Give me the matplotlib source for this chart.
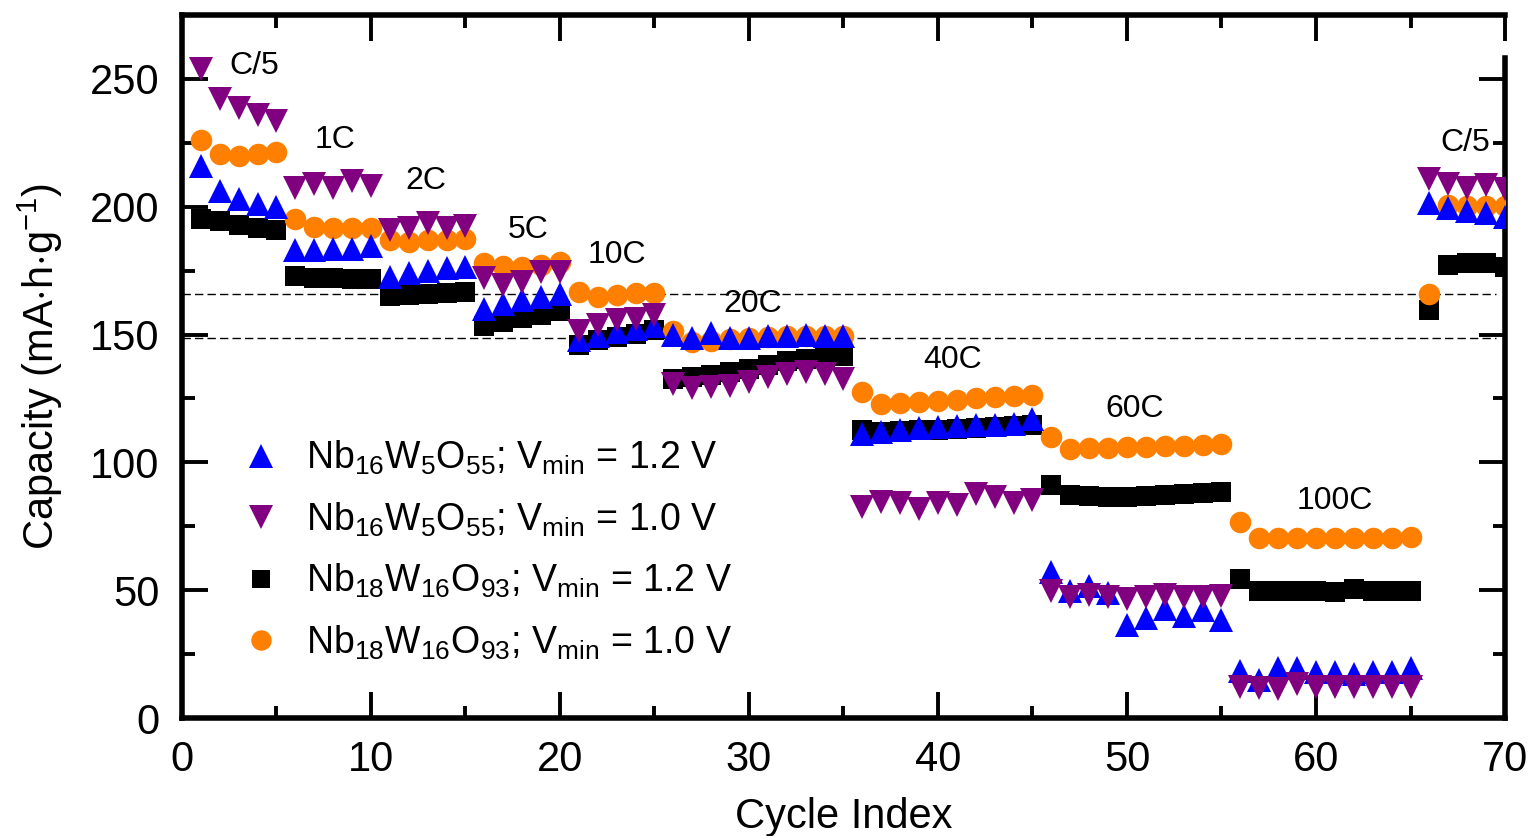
import numpy as np
import matplotlib
matplotlib.use('Agg')
import matplotlib.pyplot as plt

plt.rcParams['font.family'] = ['Liberation Sans', 'DejaVu Sans']
plt.rcParams['mathtext.fontset'] = 'custom'
plt.rcParams['mathtext.rm'] = 'Liberation Sans'
plt.rcParams['mathtext.it'] = 'Liberation Sans:italic'
plt.rcParams['mathtext.bf'] = 'Liberation Sans:bold'

cycles = np.arange(1, 71)

# Nb16W5O55, Vmin = 1.2 V
nb16_12 = [216, 206, 203, 201, 200,
           183, 183, 183.5, 183.5, 184.5,
           172.5, 174, 175, 176, 176.5,
           160, 162, 163.5, 164.5, 166,
           148, 149.5, 151, 152, 153.5,
           150, 148.6, 150.6, 148.6, 148.8, 149.3, 149.3, 150, 149.3, 149.3,
           111, 112, 112.5, 113.3, 113.7, 114.1, 114.5, 114.8, 115.2, 116.8,
           57, 49.6, 51.5, 49, 36.2, 39.2, 42.8, 40, 42.2, 38.2,
           18.4, 15, 19.6, 19.6, 18, 18, 17.4, 18, 18, 19.4,
           201.3, 199.5, 198.4, 197.6, 196]

# Nb16W5O55, Vmin = 1.0 V
nb16_10 = [254, 242, 238.5, 236, 233.5,
           207.5, 209, 207.5, 210, 208,
           191, 191.5, 193.6, 191.8, 192.3,
           172, 169.2, 170.4, 174.5, 174.5,
           151.5, 153.8, 155.8, 156.2, 157.5,
           130.5, 129, 129.3, 130, 131.6, 133.5, 134.6, 135.5, 134.4, 132.6,
           82.5, 84.5, 84, 81.6, 84, 83.2, 87.8, 86.4, 84, 85.2,
           49.5, 47.3, 48, 47.4, 46.5, 47.5, 48, 47.3, 47.3, 47.6,
           12.2, 11.8, 11.3, 13.5, 12, 12, 12, 12, 12, 12,
           211, 209, 207.5, 208.5, 207]

# Nb18W16O93, Vmin = 1.2 V
nb18_12 = [195, 194.3, 192.8, 191.5, 190.8,
           173, 172, 172, 171.6, 171.6,
           165, 165.3, 165.7, 166.1, 166.6,
           153.5, 155, 156.3, 157.8, 159.2,
           145.8, 147.7, 149.2, 150.4, 151.6,
           132.8, 133.2, 134, 135.2, 136.7, 137.9, 139.5, 140.6, 141.4, 141.8,
           112.5, 111.9, 112.1, 112.5, 112.5, 112.9, 113.3, 113.7, 114.1, 114.8,
           91, 87.1, 86.7, 86.3, 86.3, 86.7, 87.1, 87.5, 87.9, 88.3,
           54.3, 49.6, 49.6, 49.6, 49.6, 49.4, 50.4, 49.6, 49.6, 49.8,
           159.6, 177.3, 178.1, 178.1, 176.6]

# Nb18W16O93, Vmin = 1.0 V
nb18_10 = [226, 220.7, 220, 220.8, 221.5,
           195.3, 192, 191.8, 191.8, 191.5,
           186.8, 186.2, 186.8, 186.8, 187.2,
           177.8, 177, 176.6, 177.2, 178.3,
           166.5, 164.8, 165.6, 166.2, 166.4,
           151.5, 147, 147.5, 148.3, 148.8, 149.2, 149.3, 149.4, 149.4, 149.4,
           127.4, 122.8, 123.1, 123.5, 123.9, 124.3, 125, 125.4, 125.8, 126.2,
           109.8, 105.3, 105.6, 105.8, 105.9, 106, 106.3, 106.6, 106.8, 107.2,
           76.8, 70.3, 70.4, 70.4, 70.5, 70.6, 70.6, 70.6, 70.6, 71,
           166, 200.5, 200.3, 200.3, 200.2]

rate_labels = ['C/5', '1C', '2C', '5C', '10C', '20C', '40C', '60C', '100C', 'C/5']
rate_x = [3.8, 8.1, 12.9, 18.3, 23.0, 30.2, 40.8, 50.4, 61.0, 67.9]
rate_y = [255, 226, 210, 191, 181, 162, 140, 121, 85, 225]

ref_levels = [166, 148.5]

fig = plt.figure(figsize=(15.34, 8.36), dpi=100)
ax = fig.add_axes([0.1186, 0.1411, 0.8625, 0.8410])

for lvl in ref_levels:
    ax.hlines(lvl, 0, 69.5, colors='black', linewidth=1, linestyles=(0, (6, 3)), zorder=1)

ax.plot(cycles, nb18_12, 's', color='black', ms=14, mew=0, zorder=2,
        label=r'Nb$_{18}$W$_{16}$O$_{93}$; V$_{\rm min}$ = 1.2 V')
ax.plot(cycles, nb18_10, 'o', color='#FF8000', ms=15.5, mew=0, zorder=3,
        label=r'Nb$_{18}$W$_{16}$O$_{93}$; V$_{\rm min}$ = 1.0 V')
ax.plot(cycles, nb16_12, '^', color='#0000FF', ms=17.5, mew=0, zorder=4,
        label=r'Nb$_{16}$W$_{5}$O$_{55}$; V$_{\rm min}$ = 1.2 V')
ax.plot(cycles, nb16_10, 'v', color='#800080', ms=17.5, mew=0, zorder=5,
        label=r'Nb$_{16}$W$_{5}$O$_{55}$; V$_{\rm min}$ = 1.0 V')

for lab, tx, ty in zip(rate_labels, rate_x, rate_y):
    ax.text(tx, ty, lab, fontsize=23, ha='center', va='center', zorder=6)

ax.set_xlim(0, 70)
ax.set_ylim(0, 275)
ax.set_xticks(np.arange(0, 71, 10))
ax.set_xticks(np.arange(5, 70, 10), minor=True)
ax.set_yticks(np.arange(0, 251, 50))
ax.set_yticks(np.arange(25, 276, 50), minor=True)
ax.tick_params(which='both', direction='in', top=True, right=True,
               width=2.8, labelsize=30)
ax.tick_params(axis='x', which='major', pad=16)
ax.tick_params(axis='y', which='major', pad=16)
ax.tick_params(which='major', length=19)
ax.tick_params(which='minor', length=9)
for sp in ax.spines.values():
    sp.set_linewidth(4)
ax.spines['right'].set_bounds(0, 258)

ax.set_xlabel('Cycle Index', fontsize=30, labelpad=12)
ax.set_ylabel(r'Capacity (mA$\cdot$h$\cdot$g$^{-1}$)', fontsize=30, labelpad=18)

handles, labels = ax.get_legend_handles_labels()
order = [2, 3, 0, 1]
ax.legend([handles[i] for i in order], [labels[i] for i in order],
          loc='lower left', bbox_to_anchor=(0.017, 0.032), frameon=False,
          fontsize=27, markerscale=0.95, handletextpad=0.6, labelspacing=0.62,
          handlelength=1.2)

fig.savefig('out.png', dpi=100)
